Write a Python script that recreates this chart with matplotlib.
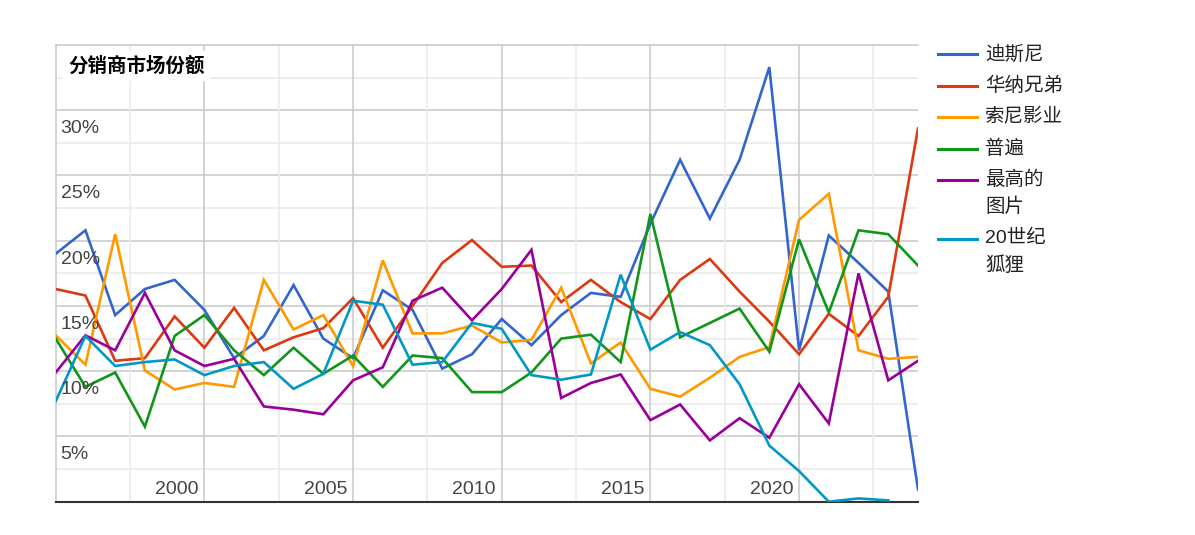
import numpy as np
import matplotlib
matplotlib.use("Agg")
import matplotlib.pyplot as plt
from matplotlib.lines import Line2D

plt.rcParams['font.family'] = ['Liberation Sans', 'Noto Sans CJK SC', 'DejaVu Sans']

# data (market share, %)
years = list(range(1995, 2025))
disney = [19.0, 20.8, 14.3, 16.3, 17.0, 14.7, 11.0, 12.7, 16.6, 12.5,
          11.0, 16.2, 14.7, 10.2, 11.3, 14.0, 12.0, 14.3, 16.0, 15.7,
          21.3, 26.2, 21.7, 26.2, 33.3, 11.6, 20.4, 18.3, 16.1, 0.95]
warner = [16.3, 15.8, 10.8, 11.0, 14.2, 11.8, 14.85, 11.6, 12.6, 13.3,
          15.6, 11.8, 15.0, 18.3, 20.05, 18.0, 18.1, 15.3, 17.0, 15.3,
          14.0, 17.0, 18.6, 16.1, 13.8, 11.3, 14.4, 12.7, 15.7, 28.6]
sony = [12.75, 10.5, 20.5, 10.05, 8.6, 9.1, 8.8, 17.0, 13.2, 14.3,
        10.4, 18.5, 12.9, 12.9, 13.5, 12.2, 12.4, 16.4, 10.6, 12.2,
        8.65, 8.05, 9.5, 11.1, 11.85, 21.6, 23.6, 11.6, 10.95, 11.1]
universal = [12.5, 8.8, 9.9, 5.75, 12.7, 14.3, 11.6, 9.7, 11.8, 9.8,
             11.2, 8.8, 11.2, 11.0, 8.4, 8.4, 9.9, 12.5, 12.8, 10.7,
             22.05, 12.6, 13.7, 14.8, 11.5, 20.1, 14.5, 20.8, 20.5, 18.1]
paramount = [9.9, 12.75, 11.6, 16.0, 11.6, 10.4, 10.95, 7.3, 7.05, 6.7,
             9.3, 10.3, 15.4, 16.4, 13.9, 16.3, 19.3, 7.95, 9.1, 9.75,
             6.25, 7.45, 4.7, 6.4, 4.9, 9.0, 6.0, 17.5, 9.3, 10.8]
fox = [7.7, 12.7, 10.4, 10.7, 10.9, 9.7, 10.4, 10.7, 8.65, 9.8,
       15.4, 15.1, 10.5, 10.7, 13.7, 13.25, 9.7, 9.35, 9.75, 17.4,
       11.65, 13.0, 12.0, 9.0, 4.3, 2.35, 0.0, 0.25, 0.1, np.nan]

series_labels = ["迪斯尼", "华纳兄弟", "索尼影业", "普遍", "最高的\n图片", "20世纪\n狐狸"]
series_values = [disney, warner, sony, universal, paramount, fox]
colors = ["#3366cc", "#dc3912", "#ff9900", "#109618", "#990099", "#0099c6"]
y_ticks = [5, 10, 15, 20, 25, 30]
x_ticks = [2000, 2005, 2010, 2015, 2020]

W, H = 1195, 535
fig = plt.figure(figsize=(W / 100, H / 100), dpi=100)
ax = fig.add_axes([55.7 / W, 1 - 501.7 / H, (918 - 55.7) / W, (501.7 - 45) / H])

ax.set_xlim(1995, 2024)
ax.set_ylim(0, 35)

# grid
for v in np.arange(2.5, 35, 2.5):
    major = v % 5 == 0
    ax.axhline(v, color="#cccccc" if major else "#ebebeb", lw=1.2, zorder=0)
for v in np.arange(1997.5, 2024, 2.5):
    major = v % 5 == 0
    ax.axvline(v, color="#cccccc" if major else "#ebebeb", lw=1.2, zorder=0)

ax.spines["right"].set_visible(False)
ax.spines["top"].set_color("#cccccc")
ax.spines["left"].set_color("#cccccc")
ax.spines["top"].set_linewidth(1.2)
ax.spines["left"].set_linewidth(1.2)
ax.spines["bottom"].set_color("#333333")
ax.spines["bottom"].set_linewidth(1.5)
ax.set_xticks([])
ax.set_yticks([])

for vals, c in zip(series_values, colors):
    ax.plot(years, vals, color=c, lw=1.9, solid_joinstyle="miter", zorder=3)

# in-chart tick labels
for t in y_ticks:
    ax.annotate(f"{t}%", xy=(1995, t), xytext=(5, -10), textcoords="offset pixels",
                ha="left", va="top", fontsize=14, color="#444444", zorder=4)
for t in x_ticks:
    ax.annotate(str(t), xy=(t, 0), xytext=(-6, 8), textcoords="offset pixels",
                ha="right", va="baseline", fontsize=14, color="#444444", zorder=4)

fig.text(68 / W, 1 - 66 / H, "分销商市场份额", fontsize=14, fontweight="bold",
         color="#000000", ha="left", va="center", zorder=5,
         bbox=dict(facecolor="white", edgecolor="none", pad=4))

# legend
y = 54
for lab, c in zip(series_labels, colors):
    fig.add_artist(Line2D([938 / W, 977 / W], [1 - y / H] * 2, color=c, lw=2.2))
    lines = lab.split("\n")
    for k, ln in enumerate(lines):
        fig.text(985 / W, 1 - (y + 27 * k) / H, ln, fontsize=14, color="#222222",
                 ha="left", va="center")
    y += 31.5 + 27 * (len(lines) - 1)

fig.savefig("out.png", dpi=100)
